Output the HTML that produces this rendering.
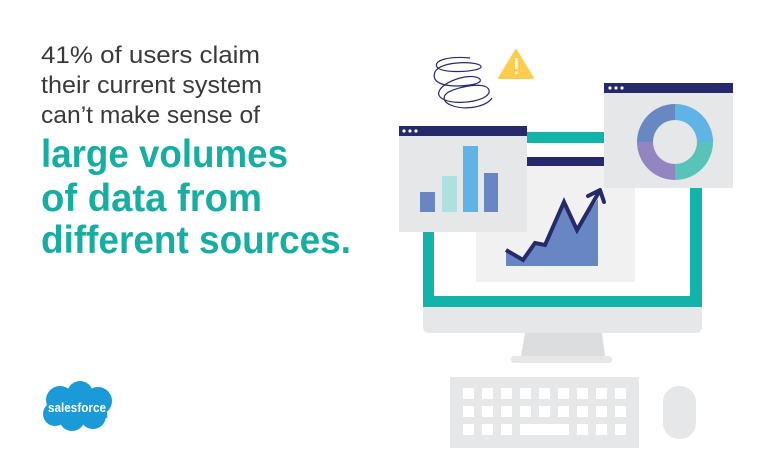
<!DOCTYPE html>
<html><head><meta charset="utf-8"><style>
html,body{margin:0;padding:0;background:#fff;}
svg{display:block;}
</style></head><body>
<svg width="765" height="470" viewBox="0 0 765 470" xmlns="http://www.w3.org/2000/svg">
<rect width="765" height="470" fill="#fff"/>
<g font-family="Liberation Sans, sans-serif">
<text x="41" y="63" font-size="24" fill="#3a3a3a" textLength="219" lengthAdjust="spacingAndGlyphs">41% of users claim</text>
<text x="41" y="93" font-size="24" fill="#3a3a3a" textLength="221" lengthAdjust="spacingAndGlyphs">their current system</text>
<text x="41" y="123" font-size="24" fill="#3a3a3a" textLength="219" lengthAdjust="spacingAndGlyphs">can’t make sense of</text>
<text x="41" y="167" font-size="39" font-weight="bold" fill="#16ada3" textLength="247" lengthAdjust="spacingAndGlyphs">large volumes</text>
<text x="41" y="211" font-size="39" font-weight="bold" fill="#16ada3" textLength="221" lengthAdjust="spacingAndGlyphs">of data from</text>
<text x="41" y="253" font-size="39" font-weight="bold" fill="#16ada3" textLength="310" lengthAdjust="spacingAndGlyphs">different sources.</text>
</g>
<g fill="#1a9ad6">
<circle cx="60" cy="400" r="14"/><circle cx="80" cy="394" r="13"/><circle cx="98" cy="401" r="14"/>
<circle cx="55" cy="414" r="12"/><circle cx="72" cy="418" r="13"/><circle cx="93" cy="416" r="13"/>
<rect x="52" y="398" width="55" height="20"/>
</g>
<text x="77" y="412" font-family="Liberation Sans, sans-serif" font-size="12.5" font-weight="bold" fill="#fff" text-anchor="middle" textLength="58" lengthAdjust="spacingAndGlyphs">salesforce</text>

<rect x="423" y="290" width="279" height="43" rx="6" fill="#e6e7e8"/>
<rect x="423" y="132" width="279" height="175" fill="#12b3a8"/>
<rect x="434" y="143" width="256" height="153" fill="#fff"/>
<polygon points="525,333 602,333 605,356 521,356" fill="#dcdddf"/>
<rect x="511" y="356" width="101" height="7" rx="3" fill="#e6e7e8"/>
<rect x="450" y="377" width="189" height="71" fill="#e6e7e8"/>
<g fill="#fff">
<rect x="463" y="388" width="11" height="11"/><rect x="482" y="388" width="11" height="11"/><rect x="501" y="388" width="11" height="11"/><rect x="520" y="388" width="11" height="11"/><rect x="539" y="388" width="11" height="11"/><rect x="558" y="388" width="11" height="11"/><rect x="577" y="388" width="11" height="11"/><rect x="596" y="388" width="11" height="11"/><rect x="615" y="388" width="11" height="11"/>
<rect x="463" y="406" width="11" height="11"/><rect x="482" y="406" width="11" height="11"/><rect x="501" y="406" width="11" height="11"/><rect x="520" y="406" width="11" height="11"/><rect x="539" y="406" width="11" height="11"/><rect x="558" y="406" width="11" height="11"/><rect x="577" y="406" width="11" height="11"/><rect x="596" y="406" width="11" height="11"/><rect x="615" y="406" width="11" height="11"/>
<rect x="463" y="424" width="11" height="11"/><rect x="482" y="424" width="11" height="11"/><rect x="501" y="424" width="11" height="11"/><rect x="520" y="424" width="49" height="11"/><rect x="577" y="424" width="11" height="11"/><rect x="596" y="424" width="11" height="11"/><rect x="615" y="424" width="11" height="11"/>
</g>
<rect x="663" y="386" width="33" height="53" rx="16" fill="#e6e7e8"/>

<rect x="476" y="157" width="159" height="125" fill="#f1f1f2"/>
<rect x="476" y="157" width="159" height="9" fill="#262a6b"/>
<polygon points="506,250 523,260 535,243 545,245 564,202 577,230 598,199 598,266 506,266" fill="#6786c3"/>
<polyline points="506,250 523,260 535,243 545,245 564,202 577,230 599,192" fill="none" stroke="#262a6b" stroke-width="4"/>
<polyline points="588,196 600,190 604,202" fill="none" stroke="#262a6b" stroke-width="4" stroke-linecap="round" stroke-linejoin="round"/>

<rect x="399" y="126" width="128" height="106" fill="#e6e7e8"/>
<rect x="399" y="126" width="128" height="10" fill="#262a6b"/>
<g fill="#fff"><circle cx="404" cy="131" r="1.6"/><circle cx="410" cy="131" r="1.6"/><circle cx="416" cy="131" r="1.6"/></g>
<rect x="420" y="192" width="15" height="20" fill="#6786c3"/>
<rect x="442" y="176" width="15" height="36" fill="#aee0e0"/>
<rect x="463" y="146" width="15" height="66" fill="#5fb3e5"/>
<rect x="484" y="173" width="14" height="39" fill="#6786c3"/>

<rect x="604" y="83" width="129" height="105" fill="#e6e7e8"/>
<rect x="604" y="83" width="129" height="10" fill="#262a6b"/>
<g fill="#fff"><circle cx="610" cy="88" r="1.6"/><circle cx="616" cy="88" r="1.6"/><circle cx="622" cy="88" r="1.6"/></g>
<path d="M675,142 L675,104 A38,38 0 0 1 713,142 Z" fill="#5fb3e5"/>
<path d="M675,142 L713,142 A38,38 0 0 1 675,180 Z" fill="#58c3b8"/>
<path d="M675,142 L675,180 A38,38 0 0 1 637,142 Z" fill="#9285c1"/>
<path d="M675,142 L637,142 A38,38 0 0 1 675,104 Z" fill="#6788c3"/>
<circle cx="675" cy="142" r="22" fill="#e6e7e8"/>

<path d="M516,50 L533,78 L499,78 Z" fill="#ffcc4d" stroke="#ffcc4d" stroke-width="2" stroke-linejoin="round"/>
<rect x="515" y="58" width="2.5" height="11" fill="#fff"/><rect x="515" y="71.5" width="2.5" height="2.5" fill="#fff"/>

<path d="M470,58 C450,56 433,60 437,67 C441,74 480,72 481,67 C482,61 440,60 435,72 C430,84 448,88 470,85 C490,82 478,73 460,78 C440,84 432,95 445,100 C460,106 492,100 489,90 C486,80 450,88 445,95 C440,104 458,110 475,107 C485,105 490,101 492,98" fill="none" stroke="#262a6b" stroke-width="1.2"/>
</svg>
</body></html>
